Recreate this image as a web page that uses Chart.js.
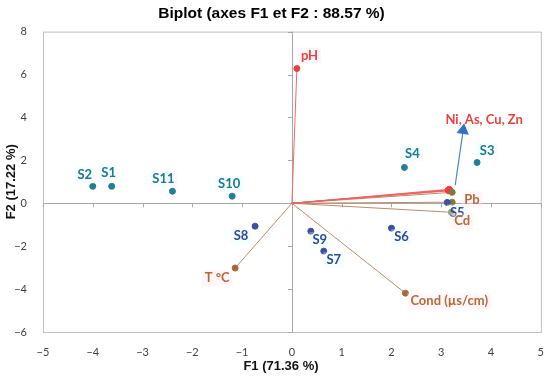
<!DOCTYPE html>
<html>
<head>
<meta charset="utf-8">
<script src="https://cdn.jsdelivr.net/npm/chart.js@4.4.1/dist/chart.umd.min.js"></script>
<style>
  html, body { margin: 0; padding: 0; background: #fff; }
  #wrap { width: 550px; height: 382px; }
</style>
</head>
<body>
<div id="wrap"><canvas id="biplot"></canvas></div>
<script>
// observations (sites)
var obsNames = ['S1', 'S2', 'S3', 'S4', 'S5', 'S6', 'S7', 'S8', 'S9', 'S10', 'S11'];
var obsF1 = [-3.62, -4.0, 3.72, 2.26, 3.12, 2.0, 0.64, -0.74, 0.38, -1.2, -2.4];
var obsF2 = [0.79, 0.79, 1.9, 1.67, 0.04, -1.16, -2.23, -1.07, -1.3, 0.33, 0.56];

// variables
var varNames = ['pH', 'Ni', 'As', 'Cu', 'Zn', 'Pb', '', 'Cd', 'T °C', 'Cond (µs/cm)'];
var varF1 = [0.1, 3.16, 3.14, 3.18, 3.15, 3.22, 3.22, 3.2, -1.14, 2.28];
var varF2 = [6.28, 0.65, 0.62, 0.6, 0.58, 0.51, 0.05, -0.42, -3.02, -4.19];

// blue arrow (tail, head)
var arrowF1 = [3.28, 3.44];
var arrowF2 = [0.84, 3.4];

var xTicks = [-5, -4, -3, -2, -1, 0, 1, 2, 3, 4, 5];
var yTicks = [-6, -4, -2, 0, 2, 4, 6, 8];

var teal = '#1f7f95', indigo = '#3d4fa0', red = '#ef3e3e', brown = '#a8693a', olive = '#7d7a3c';
var obsColors = obsNames.map(function (n) {
    return ['S5', 'S6', 'S7', 'S8', 'S9'].indexOf(n) >= 0 ? indigo : teal;
});
var varColors = ['#ef3e3e', red, red, red, red, olive, olive, olive, brown, brown];
var lineColors = ['#f26a6a', '#f06060', '#f06060', '#f06060', '#f06060', '#bb8a66', '#bb8a66', '#bb8a66', '#bb8a66', '#bb8a66'];

// label placement (pixel offsets, alignment)
var obsLabelPos = {
    S1: [-3, -13, 'center'], S2: [-8, -11, 'center'], S3: [10, -12, 'center'], S4: [8, -14, 'center'],
    S5: [10, 10, 'center'], S6: [10, 9, 'center'], S7: [10, 9, 'center'], S8: [-14, 10, 'center'],
    S9: [9, 9, 'center'], S10: [-3, -12, 'center'], S11: [-9, -12, 'center']
};
var varLabelPos = {
    'pH': [4, -13, 'left'], 'Pb': [12, 7, 'left'], 'Cd': [3, 9, 'left'],
    'T °C': [-18, 10, 'center'], 'Cond (µs/cm)': [5, 8, 'left']
};

var datasets = [];
for (var i = 0; i < varNames.length; i++) {
    datasets.push({
        type: 'line',
        data: [{ x: 0, y: 0 }, { x: varF1[i], y: varF2[i] }],
        borderColor: lineColors[i],
        borderWidth: 1,
        pointRadius: 0,
        order: 5
    });
}
datasets.push({
    type: 'line',
    data: [{ x: arrowF1[0], y: arrowF2[0] }, { x: arrowF1[1], y: arrowF2[1] }],
    borderColor: '#4a86c8',
    borderWidth: 1.2,
    pointStyle: 'triangle',
    pointRadius: [0, 6],
    pointRotation: [0, 8],
    pointBackgroundColor: '#2f74c4',
    pointBorderColor: '#2f74c4',
    order: 4
});
datasets.push({
    type: 'scatter',
    data: varF1.map(function (v, i) { return { x: v, y: varF2[i] }; }),
    pointBackgroundColor: varColors,
    pointBorderColor: varColors,
    pointRadius: 3,
    order: 2
});
datasets.push({
    type: 'scatter',
    data: obsF1.map(function (v, i) { return { x: v, y: obsF2[i] }; }),
    pointBackgroundColor: obsColors,
    pointBorderColor: obsColors,
    pointRadius: 3,
    order: 1
});

function minus(v) { return String(v).replace('-', '\u2212'); }

var framePlugin = {
    id: 'frame',
    beforeDatasetsDraw: function (chart) {
        var c = chart.ctx, a = chart.chartArea;
        var xs = chart.scales.x, ys = chart.scales.y;
        var x0 = xs.getPixelForValue(0), y0 = ys.getPixelForValue(0);
        c.save();
        c.strokeStyle = '#bfbfbf';
        c.lineWidth = 1;
        c.strokeRect(a.left + 0.5, a.top + 0.5, a.right - a.left, a.bottom - a.top);
        c.strokeStyle = '#a6a6a6';
        c.beginPath();
        c.moveTo(Math.round(x0) + 0.5, a.top);
        c.lineTo(Math.round(x0) + 0.5, a.bottom);
        c.moveTo(a.left, Math.round(y0) + 0.5);
        c.lineTo(a.right, Math.round(y0) + 0.5);
        yTicks.forEach(function (t) {
            var py = Math.round(ys.getPixelForValue(t)) + 0.5;
            c.moveTo(x0 - 4, py);
            c.lineTo(x0, py);
        });
        xTicks.forEach(function (t) {
            var px = Math.round(xs.getPixelForValue(t)) + 0.5;
            c.moveTo(px, y0);
            c.lineTo(px, y0 + 4);
        });
        c.stroke();
        // x axis title, sits a bit left of the plot centre as in the source
        c.fillStyle = '#111';
        c.font = 'bold 13px "Liberation Sans", Arial, sans-serif';
        c.textAlign = 'center';
        c.textBaseline = 'middle';
        c.fillText('F1 (71.36 %)', 281, 366);
        c.restore();
    }
};

function drawLabel(c, text, px, py, pos, color, bg) {
    c.font = 'bold 13px Lato, "Open Sans", sans-serif';
    var w = c.measureText(text).width;
    var left = pos[2] === 'left' ? px + pos[0] : px + pos[0] - w / 2;
    var cy = py + pos[1];
    c.fillStyle = bg;
    c.fillRect(left - 3, cy - 8, w + 6, 16);
    c.fillStyle = color;
    c.textBaseline = 'middle';
    c.textAlign = 'left';
    c.fillText(text, left, cy);
}

var labelPlugin = {
    id: 'labels',
    afterDatasetsDraw: function (chart) {
        var c = chart.ctx, xs = chart.scales.x, ys = chart.scales.y;
        c.save();
        obsNames.forEach(function (n, i) {
            var px = xs.getPixelForValue(obsF1[i]), py = ys.getPixelForValue(obsF2[i]);
            var col = obsColors[i] === indigo ? '#2c4a96' : '#1b7890';
            drawLabel(c, n, px, py, obsLabelPos[n], col, 'rgba(225,248,252,0.35)');
        });
        varNames.forEach(function (n, i) {
            if (!varLabelPos[n]) return;
            var px = xs.getPixelForValue(varF1[i]), py = ys.getPixelForValue(varF2[i]);
            var col = n === 'pH' ? red : '#b56a35';
            drawLabel(c, n, px, py, varLabelPos[n], col, 'rgba(255,232,244,0.4)');
        });
        // grouped label for the metals
        var tx = xs.getPixelForValue(arrowF1[1]), ty = ys.getPixelForValue(arrowF2[1]);
        drawLabel(c, 'Ni, As, Cu, Zn', tx, ty, [21, -10, 'center'], red, 'rgba(255,255,255,0)');
        c.restore();
    }
};

new Chart(document.getElementById('biplot'), {
    type: 'scatter',
    data: { datasets: datasets },
    options: {
        responsive: true,
        maintainAspectRatio: false,
        animation: false,
        layout: { padding: { left: 0, right: 7, top: 0, bottom: 0 } },
        plugins: {
            legend: { display: false },
            tooltip: { enabled: false },
            title: {
                display: true,
                text: 'Biplot (axes F1 et F2 : 88.57 %)',
                color: '#000',
                font: { family: '"Liberation Sans", Arial, sans-serif', size: 15.5, weight: 'bold' },
                padding: { top: 4, bottom: 9 }
            }
        },
        scales: {
            x: {
                type: 'linear',
                min: -5, max: 5,
                afterBuildTicks: function (s) { s.ticks = xTicks.map(function (v) { return { value: v }; }); },
                ticks: {
                    callback: minus, color: '#404040', padding: 6,
                    font: { family: 'Lato, "Open Sans", sans-serif', size: 11 }
                },
                grid: { display: false },
                border: { display: false },
                afterFit: function (s) { s.height = 50; }
            },
            y: {
                type: 'linear',
                min: -6, max: 8,
                afterBuildTicks: function (s) { s.ticks = yTicks.map(function (v) { return { value: v }; }); },
                ticks: {
                    callback: minus, color: '#404040', padding: 8,
                    font: { family: 'Lato, "Open Sans", sans-serif', size: 11 }
                },
                grid: { display: false },
                border: { display: false },
                title: {
                    display: true, text: 'F2 (17.22 %)', color: '#111',
                    font: { family: '"Liberation Sans", Arial, sans-serif', size: 13, weight: 'bold' },
                    padding: { top: 4, bottom: 0 }
                },
                afterFit: function (s) { s.width = 43; }
            }
        }
    },
    plugins: [framePlugin, labelPlugin]
});
</script>
</body>
</html>
